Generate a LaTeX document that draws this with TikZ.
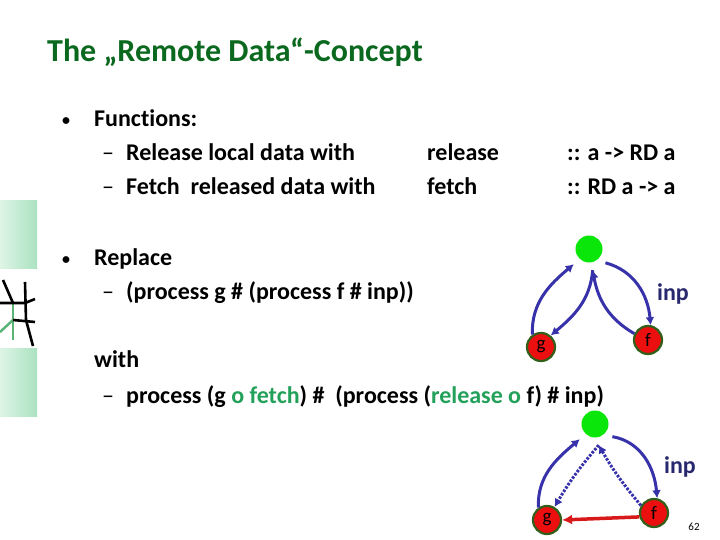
\documentclass[tikz,border=0pt]{standalone}
\usepackage{fontspec}
\setmainfont{Carlito}[Ligatures=NoCommon]
\usepackage{xcolor}
\usetikzlibrary{shapes.geometric, arrows, positioning, arrows.meta}

\definecolor{titrevert}{RGB}{10,105,30}
\definecolor{vertclair}{RGB}{35,160,90}
\definecolor{bleuarc}{RGB}{55,50,170}
\definecolor{bleuinp}{RGB}{40,40,110}
\definecolor{rougenoeud}{RGB}{235,15,15}
\definecolor{rougearc}{RGB}{215,25,25}
\definecolor{bordnoeud}{RGB}{50,95,25}
\definecolor{vertvif}{RGB}{10,230,10}
\definecolor{menthe1}{RGB}{222,245,230}
\definecolor{menthe2}{RGB}{170,226,192}
\definecolor{traitvert}{RGB}{90,180,120}

\begin{document}
\begin{tikzpicture}[x=1pt, y=-1pt]
    % Définition des styles
    \tikzset{
        titre/.style     = {anchor=base west, inner sep=0pt, font=\fontsize{32}{38}\selectfont\bfseries, text=titrevert},
        texte/.style     = {anchor=base west, inner sep=0pt, font=\fontsize{24}{29}\selectfont\bfseries},
        etiquette/.style = {inner sep=0pt, font=\fontsize{24}{29}\selectfont\bfseries, text=bleuinp},
        sommet/.style    = {circle, fill=vertvif, minimum size=27pt, inner sep=0pt, outer sep=8pt},
        proc/.style      = {circle, draw=bordnoeud, line width=2.2pt, fill=rougenoeud, minimum size=28pt, inner sep=0pt, font=\fontsize{19}{19}\selectfont},
        line/.style      = {draw=bleuarc, line width=3pt, -{Latex[length=8pt,width=9pt]}},
        pointille/.style = {line, dash pattern=on 2.5pt off 1.5pt},
        liaison/.style   = {draw=rougearc, line width=3.5pt, -{Latex[length=10pt,width=10pt]}}
    }
    \useasboundingbox (0,0) rectangle (720,540);

    % Décor à gauche
    \shade [left color=menthe1, right color=menthe2] (0,201) rectangle (37,268);
    \shade [left color=menthe1, right color=menthe2] (0,348) rectangle (37,416);
    \draw [traitvert, line width=2.5pt] (13,303) -- (13,340);
    \draw [traitvert, line width=2.5pt] (0,332) -- (13,320);
    \draw [black, line width=2.6pt] (3,280) -- (13,303);
    \draw [black, line width=2.6pt] (0,303) -- (25,303) -- (35,299);
    \draw [black, line width=2.6pt] (25,282) -- (26,320) -- (33,346);
    \draw [black, line width=2.6pt] (13,320) -- (35,322);

    % Titre
    \node [titre] (titre) at (47,62) {The „Remote Data“-Concept};

    % Fonctions
    \node [texte] (fonctions) at (62,127) {\makebox[32pt][l]{\raisebox{1pt}{\fontsize{16}{16}\selectfont •}}Functions:};
    \node [texte] (release) at (102,161) {\makebox[24pt][l]{\mdseries –}Release local data with};
    \node [texte] (fetch) at (102,195) {\makebox[24pt][l]{\mdseries –}Fetch\ \ released data with};
    \node [texte] (relnom) at (427,161) {release};
    \node [texte] (fetnom) at (427,195) {fetch};
    \node [texte] (reltype) at (567,161) {:: a -> RD a};
    \node [texte] (fettype) at (567,195) {:: RD a -> a};

    % Remplacement
    \node [texte] (replace) at (62,265) {\makebox[32pt][l]{\raisebox{1pt}{\fontsize{16}{16}\selectfont •}}Replace};
    \node [texte] (proc1) at (102,299) {\makebox[24pt][l]{\mdseries –}(process g \# (process f \# inp))};
    \node [texte] (with) at (94,367) {with};
    \node [texte] (proc2) at (102,403) {\makebox[24pt][l]{\mdseries –}process (g \textcolor{vertclair}{o fetch}) \#\ \ (process (\textcolor{vertclair}{release o} f) \# inp)};

    % Premier graphe
    \node [sommet] (haut1) at (589,249) {};
    \node [proc] (g1) at (541,347) {g};
    \node [proc] (f1) at (648,340) {f};
    \node [etiquette] (inp1) at (673,294) {inp};

    % Deuxième graphe
    \node [sommet] (haut2) at (595,424) {};
    \node [proc] (g2) at (547,520) {g};
    \node [proc] (f2) at (654,513) {f};
    \node [etiquette] (inp2) at (680,467) {inp};
    \node [inner sep=0pt, font=\fontsize{11}{13}\selectfont] (page) at (694,527) {62};

    % Connexions du premier graphe
    \path [line] (g1.125) to[out=92, in=220] (haut1.225);
    \path [line] (haut1.-80) to[out=-95, in=40] (g1.50);
    \path [line] (f1.155) to[out=150, in=-80] (haut1.-80);
    \path [line] (haut1.-40) to[out=-15, in=95] (f1.80);

    % Connexions du deuxième graphe
    \path [line] (g2.125) to[out=92, in=220] (haut2.225);
    \path [pointille] (haut2.-80) to[bend right=5] (g2.60);
    \path [pointille] (f2.150) to[bend left=5] (haut2.-80);
    \path [line] (haut2.-36) to[out=-10, in=95] (f2.78);
    \path [liaison] (f2.195) -- (g2.east);
\end{tikzpicture}
\end{document}
